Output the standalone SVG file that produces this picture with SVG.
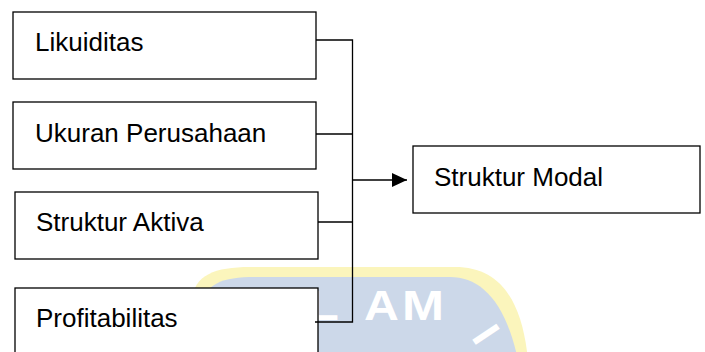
<svg xmlns="http://www.w3.org/2000/svg" width="705" height="352" viewBox="0 0 705 352">
  <style>
    .box { fill: #ffffff; stroke: #000000; stroke-width: 1.3; }
    .lbl { font-family: "Liberation Sans", Arial, sans-serif; font-size: 26px; fill: #000000; }
    .conn { fill: none; stroke: #000000; stroke-width: 1.3; }
    .wm { font-family: "Liberation Sans", Arial, sans-serif; font-size: 42px; font-weight: bold; fill: #ffffff; }
  </style>
  <defs>
    <marker id="arrow" markerUnits="userSpaceOnUse" markerWidth="16" markerHeight="14" refX="15" refY="7" orient="auto">
      <path d="M0,0 L15,7 L0,14 Z" fill="#000000"/>
    </marker>
  </defs>
  <rect x="0" y="0" width="705" height="352" fill="#ffffff"/>
  <g id="watermark">
    <path d="M190,360 L192,300 C194,275 215,267 250,267 L455,267 C500,267 522,300 528,360 Z" fill="#fbf5bc"/>
    <path d="M200,360 L202,305 C205,284 222,277 255,277 L450,277 C480,277 505,300 518,360 Z" fill="#ccd8e9"/>
    <text class="wm" transform="translate(308,320) scale(1.2,1)">L</text>
    <text class="wm" transform="translate(364,320) scale(1.15,1)">A</text>
    <text class="wm" transform="translate(402,320) scale(1.2,1)">M</text>
    <text class="wm" transform="translate(486.5,334) rotate(56)" text-anchor="middle" y="15">I</text>
  </g>
  <g id="likuiditas">
    <rect class="box" x="13" y="12" width="303" height="67"/>
    <text class="lbl" x="35" y="51">Likuiditas</text>
  </g>
  <g id="ukuran-perusahaan">
    <rect class="box" x="13" y="102" width="303" height="67"/>
    <text class="lbl" x="35" y="142">Ukuran Perusahaan</text>
  </g>
  <g id="struktur-aktiva">
    <rect class="box" x="15" y="192" width="303" height="67"/>
    <text class="lbl" x="36" y="231">Struktur Aktiva</text>
  </g>
  <g id="profitabilitas">
    <rect class="box" x="15" y="288" width="303" height="80"/>
    <text class="lbl" x="36" y="327">Profitabilitas</text>
  </g>
  <g id="struktur-modal">
    <rect class="box" x="413" y="146" width="287" height="67"/>
    <text class="lbl" x="434" y="186">Struktur Modal</text>
  </g>
  <g id="connectors">
    <path class="conn" d="M316,40 H352.5 V322 H315"/>
    <path class="conn" d="M316,134 H352.5"/>
    <path class="conn" d="M318,222 H352.5"/>
    <path class="conn" d="M352.5,180 H407" marker-end="url(#arrow)"/>
  </g>
</svg>
